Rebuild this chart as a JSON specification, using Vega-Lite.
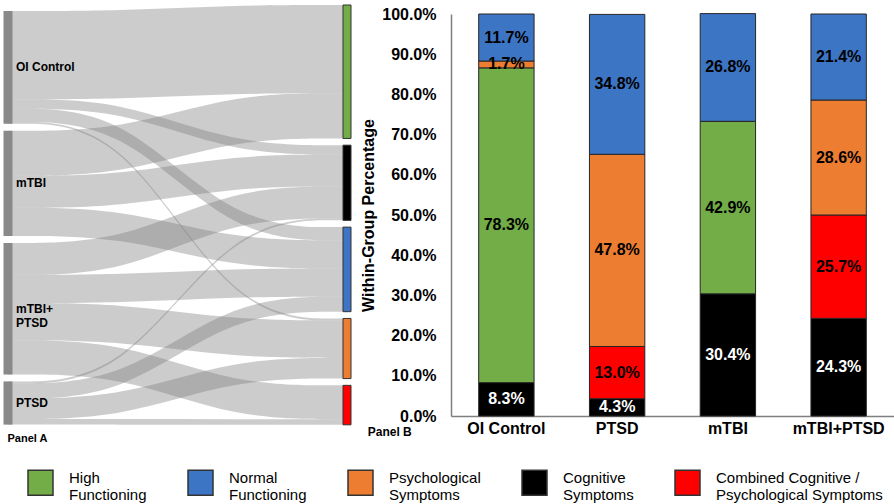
{
  "$schema": "https://vega.github.io/schema/vega-lite/v6.json",
  "padding": {"left": 3, "top": 4, "right": 0, "bottom": 0},
  "background": "white",
  "config": {
    "view": {"stroke": null},
    "font": "Liberation Sans",
    "axis": {"labelColor": "black", "titleColor": "black", "domainColor": "#7f7f7f", "domainWidth": 1.5, "ticks": false, "grid": false, "labelFont": "Liberation Sans", "titleFont": "Liberation Sans"},
    "title": {"font": "Liberation Sans", "color": "black"}
  },
  "datasets": {
    "links": [
      {"link": "OI Control-High Functioning", "t": 0, "top": 3.2, "bottom": 50.2},
      {"link": "OI Control-High Functioning", "t": 1, "top": 3.2, "bottom": 50.2},
      {"link": "OI Control-High Functioning", "t": 2, "top": 0, "bottom": 47},
      {"link": "OI Control-High Functioning", "t": 3, "top": 0, "bottom": 47},
      {"link": "OI Control-Cognitive", "t": 0, "top": 50.2, "bottom": 55.2},
      {"link": "OI Control-Cognitive", "t": 1, "top": 50.2, "bottom": 55.2},
      {"link": "OI Control-Cognitive", "t": 2, "top": 74.6, "bottom": 79.6},
      {"link": "OI Control-Cognitive", "t": 3, "top": 74.6, "bottom": 79.6},
      {"link": "OI Control-Normal", "t": 0, "top": 55.2, "bottom": 62.2},
      {"link": "OI Control-Normal", "t": 1, "top": 55.2, "bottom": 62.2},
      {"link": "OI Control-Normal", "t": 2, "top": 118.2, "bottom": 125.2},
      {"link": "OI Control-Normal", "t": 3, "top": 118.2, "bottom": 125.2},
      {"link": "OI Control-Psychological", "t": 0, "top": 62.2, "bottom": 63.2},
      {"link": "OI Control-Psychological", "t": 1, "top": 62.2, "bottom": 63.2},
      {"link": "OI Control-Psychological", "t": 2, "top": 166.8, "bottom": 167.8},
      {"link": "OI Control-Psychological", "t": 3, "top": 166.8, "bottom": 167.8},
      {"link": "mTBI-High Functioning", "t": 0, "top": 66.9, "bottom": 90.9},
      {"link": "mTBI-High Functioning", "t": 1, "top": 66.9, "bottom": 90.9},
      {"link": "mTBI-High Functioning", "t": 2, "top": 47, "bottom": 71},
      {"link": "mTBI-High Functioning", "t": 3, "top": 47, "bottom": 71},
      {"link": "mTBI-Cognitive", "t": 0, "top": 90.9, "bottom": 107.9},
      {"link": "mTBI-Cognitive", "t": 1, "top": 90.9, "bottom": 107.9},
      {"link": "mTBI-Cognitive", "t": 2, "top": 79.6, "bottom": 96.6},
      {"link": "mTBI-Cognitive", "t": 3, "top": 79.6, "bottom": 96.6},
      {"link": "mTBI-Normal", "t": 0, "top": 107.9, "bottom": 122.9},
      {"link": "mTBI-Normal", "t": 1, "top": 107.9, "bottom": 122.9},
      {"link": "mTBI-Normal", "t": 2, "top": 125.2, "bottom": 140.2},
      {"link": "mTBI-Normal", "t": 3, "top": 125.2, "bottom": 140.2},
      {"link": "mTBI+PTSD-Cognitive", "t": 0, "top": 126.6, "bottom": 143.6},
      {"link": "mTBI+PTSD-Cognitive", "t": 1, "top": 126.6, "bottom": 143.6},
      {"link": "mTBI+PTSD-Cognitive", "t": 2, "top": 96.6, "bottom": 113.6},
      {"link": "mTBI+PTSD-Cognitive", "t": 3, "top": 96.6, "bottom": 113.6},
      {"link": "mTBI+PTSD-Normal", "t": 0, "top": 143.6, "bottom": 158.6},
      {"link": "mTBI+PTSD-Normal", "t": 1, "top": 143.6, "bottom": 158.6},
      {"link": "mTBI+PTSD-Normal", "t": 2, "top": 140.2, "bottom": 155.2},
      {"link": "mTBI+PTSD-Normal", "t": 3, "top": 140.2, "bottom": 155.2},
      {"link": "mTBI+PTSD-Psychological", "t": 0, "top": 158.6, "bottom": 178.6},
      {"link": "mTBI+PTSD-Psychological", "t": 1, "top": 158.6, "bottom": 178.6},
      {"link": "mTBI+PTSD-Psychological", "t": 2, "top": 167.8, "bottom": 187.8},
      {"link": "mTBI+PTSD-Psychological", "t": 3, "top": 167.8, "bottom": 187.8},
      {"link": "mTBI+PTSD-Combined", "t": 0, "top": 178.6, "bottom": 196.6},
      {"link": "mTBI+PTSD-Combined", "t": 1, "top": 178.6, "bottom": 196.6},
      {"link": "mTBI+PTSD-Combined", "t": 2, "top": 202.4, "bottom": 220.4},
      {"link": "mTBI+PTSD-Combined", "t": 3, "top": 202.4, "bottom": 220.4},
      {"link": "PTSD-Cognitive", "t": 0, "top": 200.3, "bottom": 201.3},
      {"link": "PTSD-Cognitive", "t": 1, "top": 200.3, "bottom": 201.3},
      {"link": "PTSD-Cognitive", "t": 2, "top": 113.6, "bottom": 114.6},
      {"link": "PTSD-Cognitive", "t": 3, "top": 113.6, "bottom": 114.6},
      {"link": "PTSD-Normal", "t": 0, "top": 201.3, "bottom": 209.3},
      {"link": "PTSD-Normal", "t": 1, "top": 201.3, "bottom": 209.3},
      {"link": "PTSD-Normal", "t": 2, "top": 155.2, "bottom": 163.2},
      {"link": "PTSD-Normal", "t": 3, "top": 155.2, "bottom": 163.2},
      {"link": "PTSD-Psychological", "t": 0, "top": 209.3, "bottom": 220.3},
      {"link": "PTSD-Psychological", "t": 1, "top": 209.3, "bottom": 220.3},
      {"link": "PTSD-Psychological", "t": 2, "top": 187.8, "bottom": 198.8},
      {"link": "PTSD-Psychological", "t": 3, "top": 187.8, "bottom": 198.8},
      {"link": "PTSD-Combined", "t": 0, "top": 220.3, "bottom": 223.3},
      {"link": "PTSD-Combined", "t": 1, "top": 220.3, "bottom": 223.3},
      {"link": "PTSD-Combined", "t": 2, "top": 220.4, "bottom": 223.4},
      {"link": "PTSD-Combined", "t": 3, "top": 220.4, "bottom": 223.4}
    ],
    "groupNodes": [
      {"node": "OI Control", "t": 0, "top": 3.2, "bottom": 63.2},
      {"node": "mTBI", "t": 0, "top": 66.9, "bottom": 122.9},
      {"node": "mTBI+PTSD", "t": 0, "top": 126.6, "bottom": 196.6},
      {"node": "PTSD", "t": 0, "top": 200.3, "bottom": 223.3}
    ],
    "outcomeNodes": [
      {"category": "High Functioning", "t": 3, "top": 0, "bottom": 71},
      {"category": "Cognitive Symptoms", "t": 3, "top": 74.6, "bottom": 114.6},
      {"category": "Normal Functioning", "t": 3, "top": 118.2, "bottom": 163.2},
      {"category": "Psychological Symptoms", "t": 3, "top": 166.8, "bottom": 198.8},
      {"category": "Combined Cognitive / Psychological Symptoms", "t": 3, "top": 202.4, "bottom": 223.4}
    ],
    "bars": [
      {"group": "OI Control", "category": "Cognitive Symptoms", "pct": 8.3},
      {"group": "OI Control", "category": "High Functioning", "pct": 78.3},
      {"group": "OI Control", "category": "Psychological Symptoms", "pct": 1.7},
      {"group": "OI Control", "category": "Normal Functioning", "pct": 11.7},
      {"group": "PTSD", "category": "Cognitive Symptoms", "pct": 4.3},
      {"group": "PTSD", "category": "Combined Cognitive / Psychological Symptoms", "pct": 13.0},
      {"group": "PTSD", "category": "Psychological Symptoms", "pct": 47.8},
      {"group": "PTSD", "category": "Normal Functioning", "pct": 34.8},
      {"group": "mTBI", "category": "Cognitive Symptoms", "pct": 30.4},
      {"group": "mTBI", "category": "High Functioning", "pct": 42.9},
      {"group": "mTBI", "category": "Normal Functioning", "pct": 26.8},
      {"group": "mTBI+PTSD", "category": "Cognitive Symptoms", "pct": 24.3},
      {"group": "mTBI+PTSD", "category": "Combined Cognitive / Psychological Symptoms", "pct": 25.7},
      {"group": "mTBI+PTSD", "category": "Psychological Symptoms", "pct": 28.6},
      {"group": "mTBI+PTSD", "category": "Normal Functioning", "pct": 21.4}
    ]
  },
  "spacing": 8,
  "hconcat": [
    {
      "width": 339,
      "height": 411,
      "title": {"text": "Panel A", "orient": "bottom", "anchor": "start", "frame": "bounds", "offset": 8, "dx": 4, "fontSize": 11, "fontWeight": "bold", "color": "black"},
      "layer": [
        {
          "data": {"name": "links"},
          "mark": {"type": "area", "interpolate": "basis", "color": "#808080", "opacity": 0.4},
          "encoding": {
            "x": {"field": "t", "type": "quantitative", "scale": {"domain": [0, 3], "nice": false, "zero": false, "padding": 0}, "axis": null},
            "y": {"field": "top", "type": "quantitative", "stack": null, "scale": {"domain": [4.79, 223.5], "reverse": true, "nice": false, "zero": false, "padding": 0}, "axis": null},
            "y2": {"field": "bottom"},
            "detail": {"field": "link"}
          }
        },
        {
          "data": {"name": "groupNodes"},
          "mark": {"type": "bar", "width": 9, "color": "#898989"},
          "encoding": {
            "x": {"field": "t", "type": "quantitative"},
            "y": {"field": "top", "type": "quantitative"},
            "y2": {"field": "bottom"}
          }
        },
        {
          "data": {"name": "outcomeNodes"},
          "mark": {"type": "bar", "width": 8, "stroke": "#333333", "strokeWidth": 1, "opacity": 1},
          "encoding": {
            "x": {"field": "t", "type": "quantitative"},
            "y": {"field": "top", "type": "quantitative"},
            "y2": {"field": "bottom"},
            "color": {
              "field": "category", "type": "nominal",
              "scale": {"domain": ["High Functioning", "Normal Functioning", "Psychological Symptoms", "Cognitive Symptoms", "Combined Cognitive / Psychological Symptoms"], "range": ["#72AD47", "#3D75C5", "#ED7D31", "#000000", "#FF0000"]},
              "legend": {"orient": "none", "legendX": 19, "legendY": 455, "direction": "horizontal", "columns": 5, "title": null, "symbolType": "square", "symbolSize": 625, "symbolStrokeColor": "#333333", "symbolStrokeWidth": 1.5, "symbolOpacity": 1, "labelFontSize": 15, "labelFont": "Liberation Sans", "labelColor": "black", "labelBaseline": "alphabetic", "labelOffset": 15, "columnPadding": 38, "labelLimit": 400, "padding": 0, "labelExpr": "datum.label == 'Combined Cognitive / Psychological Symptoms' ? ['Combined Cognitive /', 'Psychological Symptoms'] : split(datum.label, ' ')"}
            }
          }
        },
        {
          "data": {"name": "groupNodes"},
          "transform": [
            {"calculate": "(datum.top + datum.bottom) / 2", "as": "mid"},
            {"calculate": "datum.node == 'mTBI+PTSD' ? 'mTBI+\\nPTSD' : datum.node", "as": "label"}
          ],
          "mark": {"type": "text", "align": "left", "baseline": "middle", "dx": 8, "fontSize": 12, "fontWeight": "bold", "color": "black", "lineBreak": "\n", "lineHeight": 14},
          "encoding": {
            "x": {"field": "t", "type": "quantitative"},
            "y": {"field": "mid", "type": "quantitative"},
            "text": {"field": "label"}
          }
        }
      ]
    },
    {
      "width": 443,
      "height": 402,
      "data": {"name": "bars"},
      "title": {"text": "Panel B", "orient": "bottom", "anchor": "start", "frame": "bounds", "offset": -9, "dx": 7, "fontSize": 12, "fontWeight": "bold", "color": "black"},
      "transform": [
        {"calculate": "indexof(['Cognitive Symptoms', 'Combined Cognitive / Psychological Symptoms', 'High Functioning', 'Psychological Symptoms', 'Normal Functioning'], datum.category)", "as": "ord"},
        {"stack": "pct", "groupby": ["group"], "sort": [{"field": "ord", "order": "ascending"}], "as": ["p0", "p1"]},
        {"calculate": "(datum.p0 + datum.p1) / 2", "as": "mid"},
        {"calculate": "format(datum.pct, '.1f') + '%'", "as": "label"}
      ],
      "layer": [
        {
          "mark": {"type": "bar", "stroke": "#262626", "strokeWidth": 1, "opacity": 1},
          "encoding": {
            "x": {"field": "group", "type": "nominal", "sort": ["OI Control", "PTSD", "mTBI", "mTBI+PTSD"], "scale": {"paddingInner": 0.5, "paddingOuter": 0.25}, "axis": {"title": null, "labelAngle": 0, "labelFontSize": 16, "labelFontWeight": "bold", "labelPadding": 4}},
            "y": {"field": "p0", "type": "quantitative", "scale": {"domain": [0, 100], "nice": false}, "axis": {"values": [0, 10, 20, 30, 40, 50, 60, 70, 80, 90, 100], "labelExpr": "format(datum.value, '.1f') + '%'", "labelFontSize": 16, "labelFontWeight": "bold", "labelPadding": 15, "title": "Within-Group Percentage", "titleFontSize": 16, "titleFontWeight": "bold", "titlePadding": 5}},
            "y2": {"field": "p1"},
            "color": {
              "field": "category", "type": "nominal",
              "scale": {"domain": ["High Functioning", "Normal Functioning", "Psychological Symptoms", "Cognitive Symptoms", "Combined Cognitive / Psychological Symptoms"], "range": ["#72AD47", "#3D75C5", "#ED7D31", "#000000", "#FF0000"]},
              "legend": {"orient": "none", "legendX": 19, "legendY": 455, "direction": "horizontal", "columns": 5, "title": null, "symbolType": "square", "symbolSize": 625, "symbolStrokeColor": "#333333", "symbolStrokeWidth": 1.5, "symbolOpacity": 1, "labelFontSize": 15, "labelFont": "Liberation Sans", "labelColor": "black", "labelBaseline": "alphabetic", "labelOffset": 15, "columnPadding": 38, "labelLimit": 400, "padding": 0, "labelExpr": "datum.label == 'Combined Cognitive / Psychological Symptoms' ? ['Combined Cognitive /', 'Psychological Symptoms'] : split(datum.label, ' ')"}
            }
          }
        },
        {
          "mark": {"type": "text", "fontSize": 16, "fontWeight": "bold", "baseline": "middle"},
          "encoding": {
            "x": {"field": "group", "type": "nominal", "sort": ["OI Control", "PTSD", "mTBI", "mTBI+PTSD"]},
            "y": {"field": "mid", "type": "quantitative"},
            "text": {"field": "label"},
            "color": {"condition": {"test": "datum.category == 'Cognitive Symptoms'", "value": "white"}, "value": "black"}
          }
        }
      ]
    }
  ]
}
